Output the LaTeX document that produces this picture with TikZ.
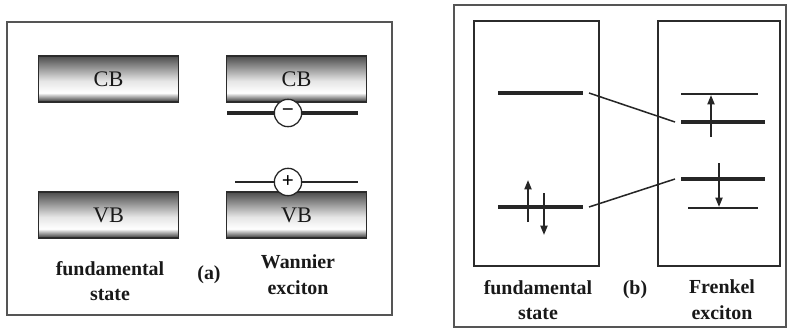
\documentclass[tikz,border=0pt]{standalone}
\usepackage{fontspec}
\setmainfont{Liberation Serif}
\usetikzlibrary{positioning,arrows.meta}
\definecolor{cborde}{HTML}{2B2B2B}
\definecolor{cmarco}{HTML}{555555}
\pgfdeclareverticalshading{gradbanda}{100bp}{color(0bp)=(black!80); color(25bp)=(black!80);
  color(35bp)=(white); color(48bp)=(black!10); color(75bp)=(black!70); color(100bp)=(black!70)}
\tikzset{
  banda/.style={rectangle, draw=cborde, line width=1.6pt, shading=gradbanda,
    minimum width=4.2cm, minimum height=1.38cm, inner sep=0pt,
    font=\fontsize{19}{19}\selectfont, text=black!90},
  marco/.style={draw=cmarco, line width=1.2pt},
  caja/.style={draw=cborde, line width=1.3pt},
  nivel/.style={draw=black!85, line width=2pt},
  nivelg/.style={draw=black!85, line width=3pt},
  carga/.style={circle, draw=black!85, fill=white, line width=1.1pt, inner sep=0pt,
    minimum size=0.82cm, font=\bfseries\fontsize{18}{18}\selectfont},
  espin/.style={-{Triangle[length=8pt,width=6pt]}, line width=1.6pt, draw=black!85},
  enlace/.style={draw=black!85, line width=1.3pt},
  etq/.style={font=\bfseries\fontsize{17}{22}\selectfont, align=center, text=black!90},
}
\begin{document}
\begin{tikzpicture}[x=0.03cm, y=-0.03cm]
  \useasboundingbox (0,0) rectangle (787,329);
  % (a) Wannier
  \draw[marco] (7,22) rectangle (392,315);
  \node[banda] (cb1) at (108.5,79) {CB};
  \node[banda] (vb1) at (108.5,215) {VB};
  \node[banda] (cb2) at (296.5,79) {CB};
  \node[banda] (vb2) at (296.5,215) {VB};
  \draw[nivelg] (227,113) coordinate (el1) -- (358,113) coordinate (el2);
  \node[carga] (elec) at (288,113) {\textminus};
  \draw[nivel] (235,182) coordinate (hu1) -- (358,182) coordinate (hu2);
  \node[carga] (hueco) at (288,182) {+};
  \node[etq] (fa) at (110,281) {fundamental\\state};
  \node[etq] (la) at (209,275) {(a)};
  \node[etq] (wx) at (298,275) {Wannier\\exciton};
  % (b) Frenkel
  \draw[marco] (454,5) rectangle (786,327);
  \draw[caja] (474,21) rectangle (599,266);
  \draw[caja] (658,21) rectangle (780,266);
  \draw[nivelg] (498,93) -- (583,93) coordinate (fsup);
  \draw[nivelg] (498,207) -- (583,207) coordinate (finf);
  \draw[espin] (528,222) -- (528,180);
  \draw[espin] (544,193) -- (544,235);
  \draw[nivel] (681,94) -- (758,94);
  \draw[nivelg] (681,122) coordinate (esup) -- (765,122);
  \draw[nivelg] (681,179) coordinate (einf) -- (765,179);
  \draw[nivel] (688,208) -- (758,208);
  \draw[espin] (711,137) -- (711,95);
  \draw[espin] (719,163) -- (719,207);
  \draw[enlace] ([xshift=0.18cm]fsup) -- ([xshift=-0.18cm]esup);
  \draw[enlace] ([xshift=0.18cm]finf) -- ([xshift=-0.18cm]einf);
  \node[etq] (fb) at (538,300) {fundamental\\state};
  \node[etq] (lb) at (635,290) {(b)};
  \node[etq] (fx) at (722,300) {Frenkel\\exciton};
\end{tikzpicture}
\end{document}
